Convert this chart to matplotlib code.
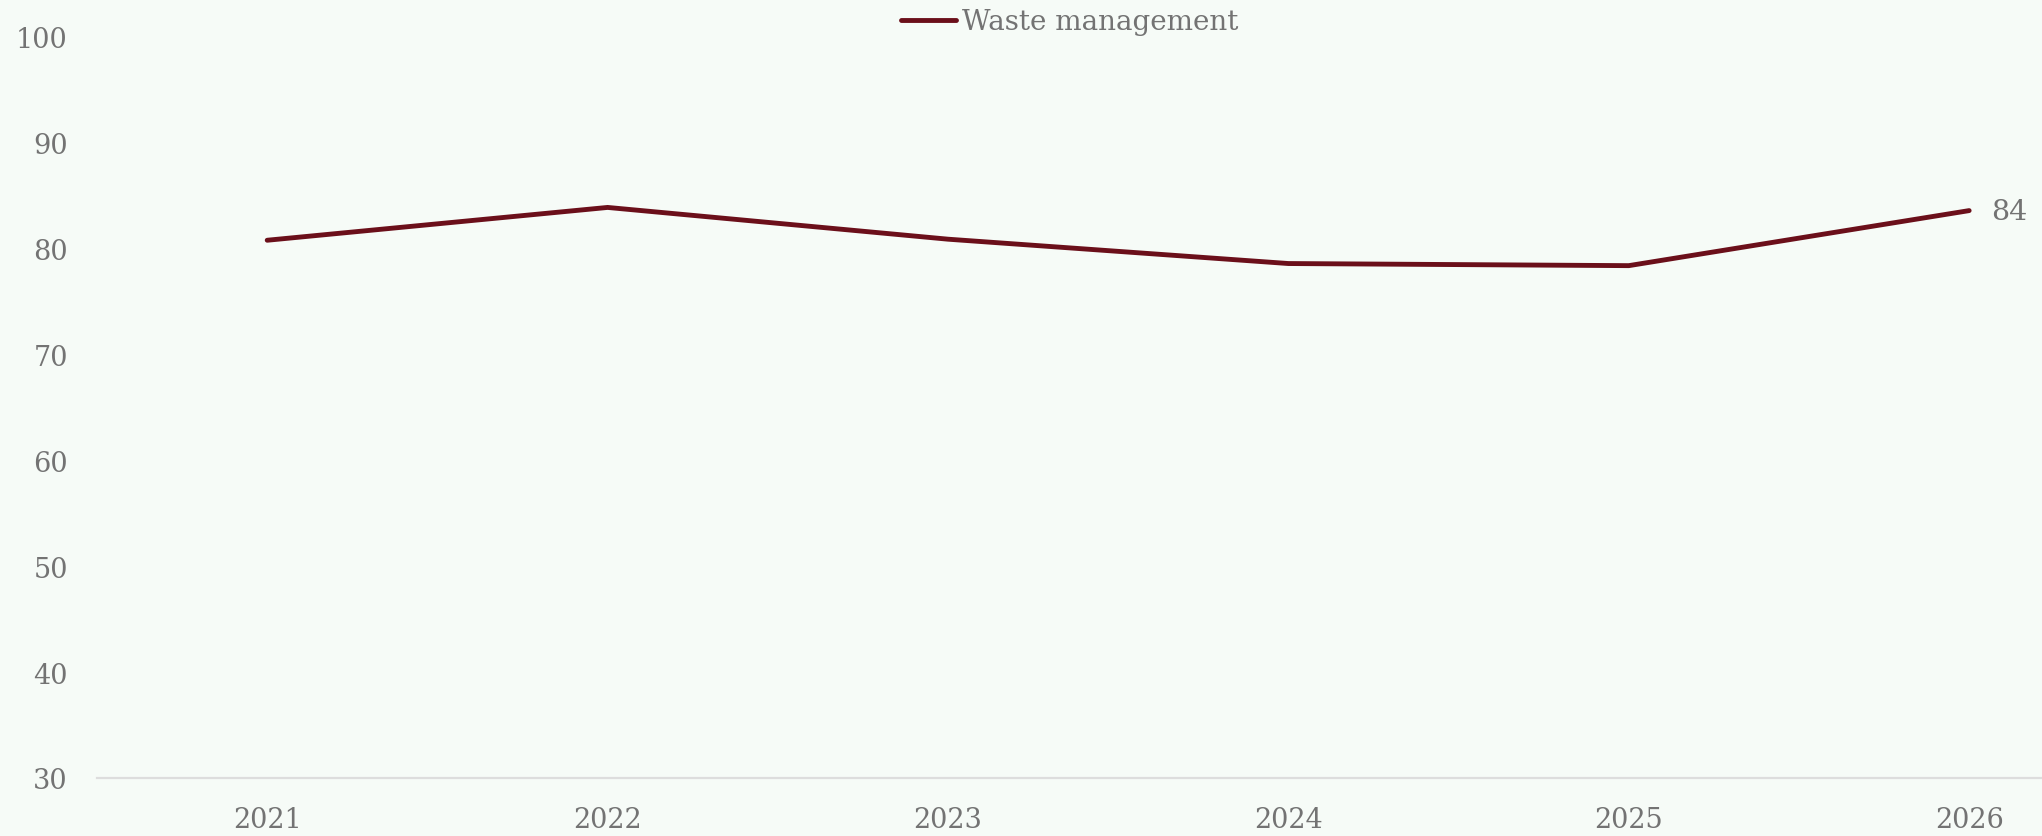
import matplotlib
matplotlib.use("Agg")
import matplotlib.pyplot as plt

# Series data
years = ["2021", "2022", "2023", "2024", "2025", "2026"]
waste_management = [80.8, 83.9, 80.9, 78.6, 78.4, 83.6]
y_ticks = [30, 40, 50, 60, 70, 80, 90, 100]

BG = "#F6FBF7"
LINE = "#6B0F1A"
TEXT = "#737373"
AXIS = "#DDDDDD"
FONT = "DejaVu Serif"

W, H, DPI = 2042, 837, 100
fig = plt.figure(figsize=(W / DPI, H / DPI), dpi=DPI, facecolor=BG)
left, right, bottom, top = 97, 2042, 837 - 779, 837 - 38
ax = fig.add_axes([left / W, bottom / H, (right - left) / W, (top - bottom) / H])
ax.set_facecolor(BG)

x = list(range(len(years)))
ax.plot(x, waste_management, color=LINE, lw=3.5, solid_capstyle="round",
        solid_joinstyle="miter", label="Waste management", clip_on=False)

# value label on the last point
ax.annotate(f"{waste_management[-1]:.0f}", xy=(x[-1], waste_management[-1]),
            xytext=(16, -1), textcoords="offset points", ha="left", va="center",
            fontsize=20.5, color=TEXT, family=FONT)

ax.set_xlim(-0.5, 5.214)
ax.set_ylim(30, 100)
ax.set_xticks(x)
ax.set_xticklabels(years)
ax.set_yticks(y_ticks)
ax.set_yticklabels([str(v) for v in y_ticks])
ax.tick_params(axis="both", length=0, labelsize=19.5, labelcolor=TEXT)
ax.tick_params(axis="y", pad=21)
ax.tick_params(axis="x", pad=20)
for lab in ax.get_xticklabels() + ax.get_yticklabels():
    lab.set_family(FONT)

for s in ["left", "right", "top"]:
    ax.spines[s].set_visible(False)
ax.spines["bottom"].set_color(AXIS)
ax.spines["bottom"].set_linewidth(1.6)

leg = ax.legend(loc="center", bbox_to_anchor=(0.5, 1 + 15 / 741), frameon=False,
                handlelength=2.0, handletextpad=0.2, borderpad=0,
                prop={"family": FONT, "size": 20})
for t in leg.get_texts():
    t.set_color(TEXT)

fig.savefig("out.png", dpi=DPI, facecolor=BG)
